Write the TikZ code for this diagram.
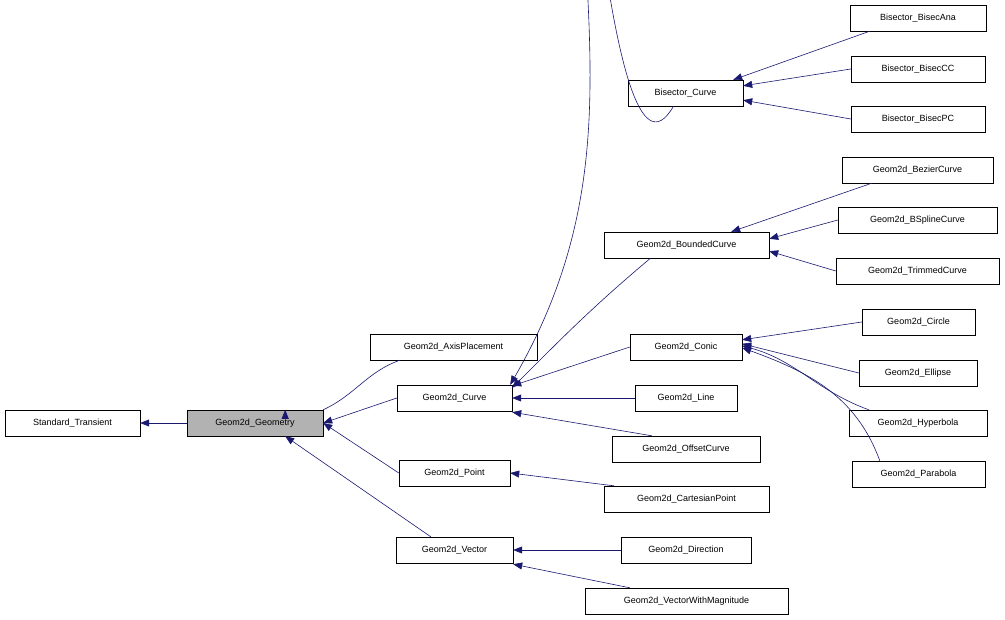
\documentclass[tikz,border=0pt]{standalone}
\usepackage{fontspec}
\setmainfont{Liberation Sans}
\usetikzlibrary{arrows.meta}
\definecolor{edge}{HTML}{191970}
\tikzset{
  box/.style={draw=black,fill=white,minimum height=26pt,inner sep=0pt,font=\fontsize{9}{10}\selectfont},
  sel/.style={box,fill=black!30},
  inh/.style={draw=edge,-{Triangle[length=9pt,width=7pt,fill=edge]}, line width=0.6pt}
}
\newcommand{\nd}[6][box]{\node[#1,minimum width=#5pt] (#2) at (#3pt,-#4pt) {#6};}
\begin{document}
\begin{tikzpicture}[x=1pt,y=1pt]
\useasboundingbox (0,0) rectangle (1005,-620);
\nd{st}{72.5}{423}{135}{Standard\_Transient}
\nd[sel]{geo}{255}{423}{136}{Geom2d\_Geometry}
\nd{axp}{453.5}{347}{167}{Geom2d\_AxisPlacement}
\nd{crv}{454.5}{398}{115}{Geom2d\_Curve}
\nd{pt}{454.5}{473}{111}{Geom2d\_Point}
\nd{vec}{454.5}{550}{117}{Geom2d\_Vector}
\nd{bc}{685.5}{93}{115}{Bisector\_Curve}
\nd{bnd}{686.5}{245}{165}{Geom2d\_BoundedCurve}
\nd{con}{686}{347}{112}{Geom2d\_Conic}
\nd{lin}{686}{398}{102}{Geom2d\_Line}
\nd{off}{686}{449}{148}{Geom2d\_OffsetCurve}
\nd{cp}{686.5}{499}{165}{Geom2d\_CartesianPoint}
\nd{dir}{686}{550}{130}{Geom2d\_Direction}
\nd{vwm}{686.5}{601}{203}{Geom2d\_VectorWithMagnitude}
\nd{ana}{918}{18}{136}{Bisector\_BisecAna}
\nd{bcc}{918}{69}{134}{Bisector\_BisecCC}
\nd{bpc}{918}{119}{134}{Bisector\_BisecPC}
\nd{bez}{917.5}{170}{151}{Geom2d\_BezierCurve}
\nd{bsp}{917.5}{220}{159}{Geom2d\_BSplineCurve}
\nd{tri}{917.5}{271}{163}{Geom2d\_TrimmedCurve}
\nd{cir}{918.5}{322}{113}{Geom2d\_Circle}
\nd{ell}{918}{373}{118}{Geom2d\_Ellipse}
\nd{hyp}{918}{423}{138}{Geom2d\_Hyperbola}
\nd{par}{918.5}{474}{133}{Geom2d\_Parabola}

\draw[inh] (geo) -- (st);
\draw[inh] (axp.south west) ++(30,0) coordinate (a1) to[out=200,in=25] (geo.north east) ++(-38,0);
\draw[inh] (crv.west) -- (geo.east);
\draw[inh] (pt.west) -- (geo.east);
\draw[inh] (vec.north west) ++(35,0) coordinate (v1) -- ([xshift=-38]geo.south east);
\draw[inh] (bc.south) ++(-12,0) coordinate (b1) to[out=240,in=90] (578,230) to[out=-90,in=60] ([xshift=-2]crv.north east);
\draw[inh] (bnd.south) ++(-36,0) coordinate (b2) to[out=220,in=45] ([xshift=0,yshift=-3]crv.north east);
\draw[inh] (con.west) -- ([yshift=-1]crv.north east);
\draw[inh] (lin) -- (crv);
\draw[inh] (off.north west) ++(40,0) coordinate (o1) -- ([yshift=-1]crv.south east);
\draw[inh] (cp.north west) ++(10,0) coordinate (c1) -- (pt.east);
\draw[inh] (dir) -- (vec);
\draw[inh] (vwm.north west) ++(45,0) coordinate (w1) -- ([yshift=-1]vec.south east);
\draw[inh] (ana.south west) ++(20,0) coordinate (x1) -- ([xshift=-10]bc.north east);
\draw[inh] (bcc.west) -- ([yshift=-6]bc.north east);
\draw[inh] (bpc.west) -- ([yshift=6]bc.south east);
\draw[inh] (bez.south west) ++(30,0) coordinate (x2) -- ([xshift=-38]bnd.north east);
\draw[inh] (bsp.west) -- ([yshift=-7]bnd.north east);
\draw[inh] (tri.west) -- ([yshift=7]bnd.south east);
\draw[inh] (cir.west) -- ([yshift=-6]con.north east);
\draw[inh] (ell.west) -- ([yshift=-10]con.north east);
\draw[inh] (hyp.north west) ++(20,0) coordinate (h1) to[out=160,in=-15] ([yshift=-12]con.north east);
\draw[inh] (par.north west) ++(28,0) coordinate (p1) to[out=110,in=-20] ([yshift=-14]con.north east);
\end{tikzpicture}
\end{document}
